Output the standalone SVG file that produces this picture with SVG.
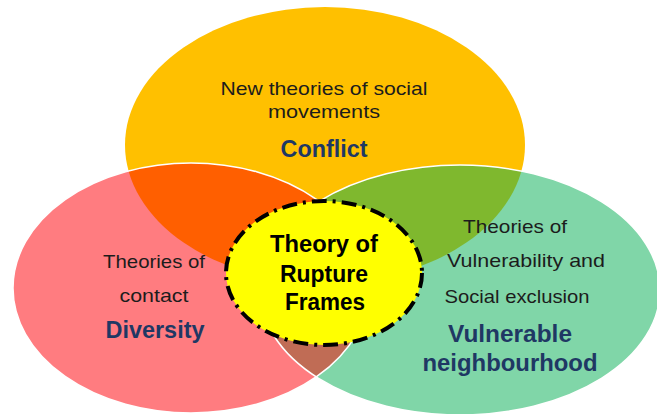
<svg xmlns="http://www.w3.org/2000/svg" width="657" height="414" viewBox="0 0 657 414">
<defs>
<clipPath id="cTop"><ellipse cx="325" cy="145" rx="200" ry="138"/></clipPath>
<clipPath id="cRed"><ellipse cx="191" cy="288" rx="178" ry="125"/></clipPath>
<style>
.reg{font-family:"Liberation Sans",Arial,sans-serif;font-size:19px;fill:#1c1c1c;text-anchor:middle}
.bld{font-family:"Liberation Sans",Arial,sans-serif;font-size:23px;font-weight:bold;fill:#1f3864;text-anchor:middle}
.ctr{font-family:"Liberation Sans",Arial,sans-serif;font-size:23px;font-weight:bold;fill:#000;text-anchor:middle}
.edge{fill:none;stroke:#fff;stroke-width:1.5}
</style>
</defs>
<rect width="657" height="414" fill="#fff"/>
<g id="shapes">
<ellipse cx="325" cy="145" rx="200" ry="138" fill="#ffc000"/>
<ellipse cx="191" cy="288" rx="178" ry="125" fill="#ff7c80"/>
<ellipse cx="460" cy="290" rx="200" ry="125" fill="#80d6a8"/>
<ellipse cx="191" cy="288" rx="178" ry="125" fill="#ff5f00" clip-path="url(#cTop)"/>
<ellipse cx="460" cy="290" rx="200" ry="125" fill="#7fb82e" clip-path="url(#cTop)"/>
<ellipse cx="460" cy="290" rx="200" ry="125" fill="#c06c55" clip-path="url(#cRed)"/>
<ellipse class="edge" cx="191" cy="288" rx="178" ry="125"/>
<ellipse class="edge" cx="460" cy="290" rx="200" ry="125"/>
</g>
<g id="conflict">
<text class="reg" x="324" y="95" textLength="207" lengthAdjust="spacingAndGlyphs">New theories of social</text>
<text class="reg" x="324" y="118" textLength="112" lengthAdjust="spacingAndGlyphs">movements</text>
<text class="bld" x="324" y="157" textLength="87" lengthAdjust="spacingAndGlyphs">Conflict</text>
</g>
<g id="diversity">
<text class="reg" x="154" y="268" textLength="102" lengthAdjust="spacingAndGlyphs">Theories of</text>
<text class="reg" x="154" y="302" textLength="69" lengthAdjust="spacingAndGlyphs">contact</text>
<text class="bld" x="155" y="338" textLength="99" lengthAdjust="spacingAndGlyphs">Diversity</text>
</g>
<g id="vulnerable">
<text class="reg" x="515" y="233" textLength="104" lengthAdjust="spacingAndGlyphs">Theories of</text>
<text class="reg" x="526" y="267" textLength="158" lengthAdjust="spacingAndGlyphs">Vulnerability and</text>
<text class="reg" x="517" y="303" textLength="145" lengthAdjust="spacingAndGlyphs">Social exclusion</text>
<text class="bld" x="510" y="342" textLength="124" lengthAdjust="spacingAndGlyphs">Vulnerable</text>
<text class="bld" x="510" y="371" textLength="175" lengthAdjust="spacingAndGlyphs">neighbourhood</text>
</g>
<g id="center">
<ellipse cx="324" cy="273" rx="98" ry="72" fill="#ffff00" stroke="#000" stroke-width="4" stroke-dasharray="15 6 3 6"/>
<text class="ctr" x="324" y="252" textLength="108" lengthAdjust="spacingAndGlyphs">Theory of</text>
<text class="ctr" x="324" y="282" textLength="88" lengthAdjust="spacingAndGlyphs">Rupture</text>
<text class="ctr" x="325" y="310" textLength="80" lengthAdjust="spacingAndGlyphs">Frames</text>
</g>
<g id="connectors"/>
</svg>
